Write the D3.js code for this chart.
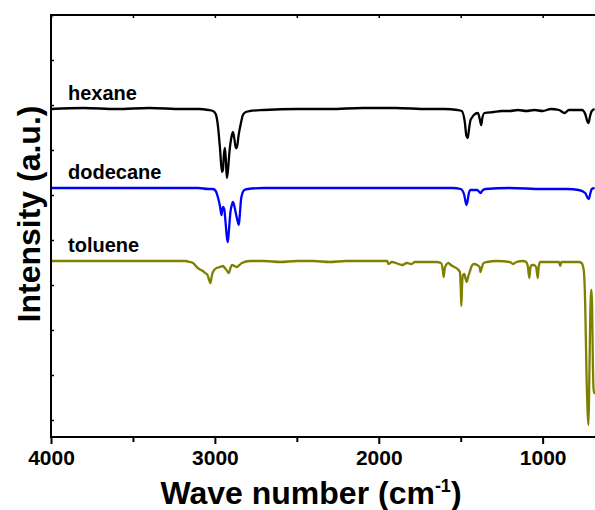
<!DOCTYPE html>
<meta charset="utf-8">
<head>
  <style>
    body { margin: 0; background: #fff; }
    text { font-family: Arial, "Liberation Sans", sans-serif; font-weight: bold; }
    .spec { fill: none; stroke-width: 2.3px; stroke-linejoin: round; }
  </style>
</head>
<body>
  <script src="https://d3js.org/d3.v7.min.js"></script>
  <div id="chart"></div>
  <script>
    // spectra, [wave number, intensity a.u.]
    var hexane = [[4000,328],[3800,329],[3600,328],[3400,329],[3200,328],[3100,328],[3040,327],[3012,326],[2995,323],[2982,312],[2968,287],[2957,265],[2951,267],[2945,282],[2939,289],[2933,277],[2927,259],[2920,267],[2910,287],[2900,299],[2890,305],[2880,297],[2872,289],[2866,289],[2855,302],[2841,314],[2829,322],[2810,325],[2787,326],[2700,327],[2500,328],[2300,328],[2100,329],[1900,329],[1700,328],[1600,328],[1520,327],[1494,326],[1475,315],[1465,301],[1457,299],[1450,307],[1440,317],[1433,319],[1420,322],[1395,324],[1380,315],[1375,312],[1368,319],[1354,324],[1300,325],[1250,326],[1200,326],[1150,327],[1100,326],[1050,327],[1000,326],[950,328],[900,327],[866,324],[840,327],[800,327],[760,327],[740,323],[728,316],[720,314],[712,320],[700,326],[683,328]];
    var dodecane = [[4000,249],[3600,249],[3200,249],[3100,249],[3040,248],[3012,248],[2995,246],[2982,240],[2968,230],[2960,222],[2957,225],[2950,230],[2943,228],[2935,215],[2927,200],[2921,195],[2915,205],[2905,225],[2895,233],[2890,235],[2880,230],[2870,222],[2860,215],[2854,212],[2848,222],[2840,238],[2835,242],[2820,247],[2799,248],[2700,249],[2400,249],[2000,249],[1700,249],[1550,249],[1500,248],[1480,243],[1470,235],[1465,232],[1458,236],[1450,244],[1440,247],[1400,247],[1378,244],[1370,246],[1350,248],[1200,249],[1000,248],[850,248],[780,247],[740,244],[725,239],[718,238],[710,243],[700,248],[683,249]];
    var toluene = [[4000,176],[3800,176],[3500,176],[3300,176],[3180,176],[3152,175],[3134,174],[3104,169],[3085,167],[3073,166],[3060,164],[3045,162],[3035,157],[3027,154],[3020,160],[3012,165],[2990,169],[2970,170],[2950,171],[2939,169],[2925,166],[2915,164],[2905,169],[2896,172],[2880,171],[2866,170],[2850,172],[2835,174],[2787,176],[2700,176],[2600,175],[2500,176],[2400,176],[2300,175],[2200,176],[2100,176],[2000,176],[1950,176],[1940,173],[1920,175],[1855,172],[1830,174],[1800,173],[1780,175],[1700,175],[1650,175],[1620,174],[1610,168],[1604,160],[1598,168],[1590,172],[1575,174],[1560,172],[1540,170],[1520,168],[1505,165],[1500,150],[1496,131],[1492,150],[1486,162],[1478,163],[1470,158],[1463,155],[1455,160],[1445,165],[1433,171],[1420,173],[1400,172],[1385,170],[1379,165],[1372,169],[1360,174],[1340,175],[1280,176],[1200,175],[1180,173],[1160,175],[1120,176],[1100,175],[1090,170],[1081,159],[1074,170],[1065,172],[1055,172],[1040,170],[1030,159],[1024,170],[1015,175],[960,175],[900,175],[893,171],[886,175],[800,175],[780,175],[762,174],[756,172],[748,165],[740,130],[732,60],[724,20],[720,12],[715,60],[709,125],[704,145],[701,147],[698,130],[694,80],[690,50],[686,44],[680,44]];

    var names = ["hexane", "dodecane", "toluene"];
    var colors = ["#000000", "#0000ff", "#808000"];
    var series = [hexane, dodecane, toluene];

    var majorTicks = [4000, 3000, 2000, 1000];
    var minorTicks = [3500, 2500, 1500];
    var yTicks = [17, 62, 107, 152, 197, 242, 287, 332, 377, 422];

    var width = 595, height = 510;
    var mLeft = 51, mRight = 600, mTop = 15, mBottom = 437;

    var svg = d3.select('#chart').append('svg')
      .attr('width', width)
      .attr('height', height);

    var x = d3.scaleLinear().domain([4000, 650]).range([mLeft, mRight]);
    var y = d3.scaleLinear().domain([0, 422]).range([mBottom, mTop]);

    svg.append('clipPath').attr('id', 'plot')
      .append('rect').attr('x', mLeft).attr('y', mTop)
      .attr('width', mRight - mLeft).attr('height', mBottom - mTop);

    var line = d3.line()
      .x(d => x(d[0]))
      .y(d => y(d[1]))
      .curve(d3.curveMonotoneX);

    var g = svg.append('g').attr('clip-path', 'url(#plot)');
    series.forEach((s, i) => {
      g.append('path')
        .attr('class', 'spec')
        .attr('d', line(s))
        .attr('stroke', colors[i]);
    });

    // labels above each trace
    names.forEach((n, i) => {
      svg.append('text')
        .attr('x', mLeft + 17)
        .attr('y', y(series[i][0][1]) - 9)
        .attr('font-size', 20)
        .text(n);
    });

    // bottom axis
    var xAxis = svg.append('g')
      .attr('transform', 'translate(0,' + mBottom + ')')
      .call(d3.axisBottom(x).tickValues(majorTicks).tickSize(7).tickSizeOuter(0).tickPadding(6).tickFormat(d => d));
    xAxis.select('.domain').remove();
    xAxis.selectAll('line').attr('stroke-width', 2);
    xAxis.selectAll('text')
      .attr('font-size', 21)
      .attr('fill', '#000')
      .attr('font-family', 'Arial, "Liberation Sans", sans-serif')
      .attr('font-weight', 'bold');

    var xMinor = svg.append('g')
      .attr('transform', 'translate(0,' + mBottom + ')')
      .call(d3.axisBottom(x).tickValues(minorTicks).tickSize(5).tickFormat(''));
    xMinor.select('.domain').remove();
    xMinor.selectAll('line').attr('stroke-width', 2);

    // top ticks, inward
    var xTop = svg.append('g')
      .attr('transform', 'translate(0,' + mTop + ')')
      .call(d3.axisTop(x).tickValues(majorTicks.concat(minorTicks)).tickSize(-3).tickFormat(''));
    xTop.select('.domain').remove();
    xTop.selectAll('line').attr('stroke-width', 1.5);

    // left ticks, inward
    var yAxis = svg.append('g')
      .attr('transform', 'translate(' + mLeft + ',0)')
      .call(d3.axisLeft(y).tickValues(yTicks).tickSize(-3).tickFormat(''));
    yAxis.select('.domain').remove();
    yAxis.selectAll('line').attr('stroke-width', 1.5);

    // frame
    svg.append('path')
      .attr('d', 'M' + mRight + ',' + mTop + 'H' + mLeft + 'V' + mBottom + 'H' + mRight)
      .attr('fill', 'none')
      .attr('stroke', '#000')
      .attr('stroke-width', 2);

    // axis titles
    var xt = svg.append('text')
      .attr('x', 311)
      .attr('y', 504)
      .attr('text-anchor', 'middle')
      .attr('font-size', 32);
    xt.append('tspan').text('Wave number (cm');
    xt.append('tspan').attr('font-size', 18).attr('dy', -12).text('-1');
    xt.append('tspan').attr('dy', 12).text(')');

    svg.append('text')
      .attr('transform', 'translate(40,214) rotate(-90)')
      .attr('text-anchor', 'middle')
      .attr('font-size', 32)
      .text('Intensity (a.u.)');
  </script>
</body>
